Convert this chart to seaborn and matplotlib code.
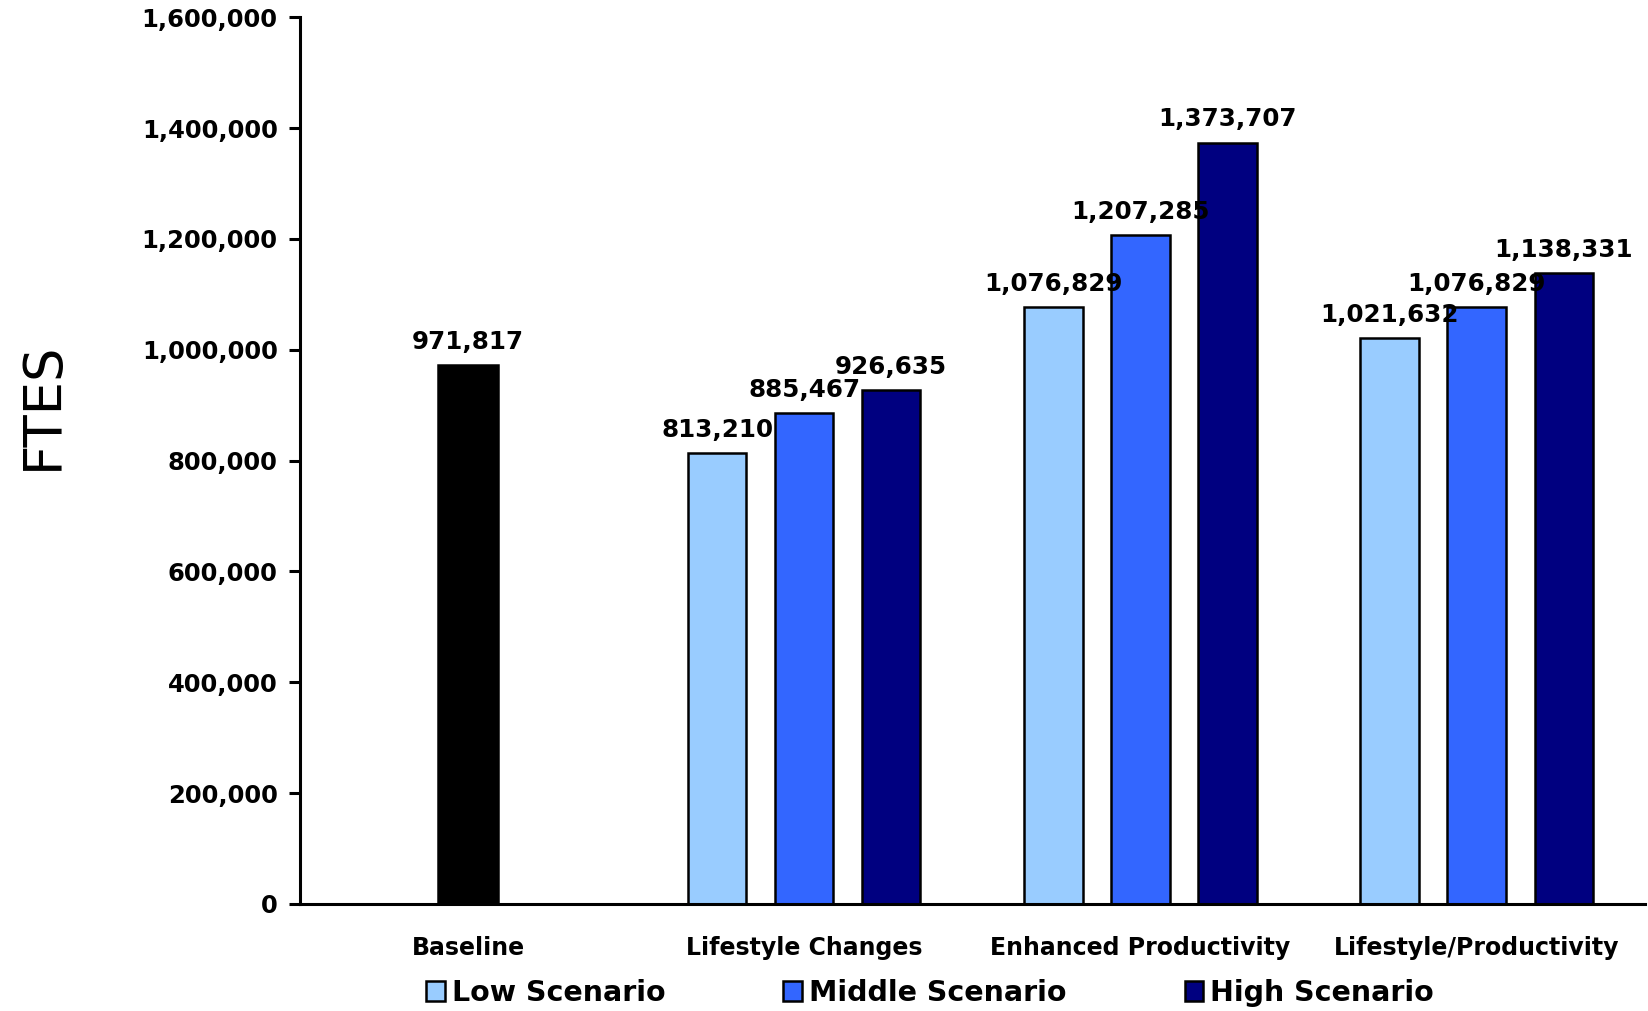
import matplotlib
matplotlib.use("Agg")
import matplotlib.pyplot as plt
import matplotlib.ticker as mticker
from matplotlib.patches import Patch
import pandas as pd
import seaborn as sns

# ---- data -------------------------------------------------------------
categories = ["Baseline", "Lifestyle Changes", "Enhanced Productivity",
              "Lifestyle/Productivity"]
scenarios = ["Low Scenario", "Middle Scenario", "High Scenario"]
baseline_value = 971817
low_values = [813210, 1076829, 1021632]
middle_values = [885467, 1207285, 1076829]
high_values = [926635, 1373707, 1138331]
y_ticks = [0, 200000, 400000, 600000, 800000, 1000000, 1200000, 1400000, 1600000]

scenario_colors = ["#99CCFF", "#3366FF", "#000080"]
baseline_color = "#000000"

# long-form table for the scenario bars
rows = []
for scen, vals in zip(scenarios, [low_values, middle_values, high_values]):
    for cat, v in zip(categories[1:], vals):
        rows.append({"category": cat, "scenario": scen, "FTEs": v})
scen_df = pd.DataFrame(rows)
base_df = pd.DataFrame({"category": [categories[0]], "FTEs": [baseline_value]})

# ---- style ------------------------------------------------------------
sns.set_theme(style="white")
plt.rcParams["font.family"] = ["DejaVu Sans"]
plt.rcParams["text.color"] = "black"

fig, ax = plt.subplots(figsize=(16.48, 10.11), dpi=100)
fig.subplots_adjust(left=0.182, right=0.998, bottom=0.106, top=0.983)

sns.barplot(data=scen_df, x="category", y="FTEs", hue="scenario",
            order=categories, hue_order=scenarios, palette=scenario_colors,
            width=0.777, gap=0.33, saturation=1, errorbar=None,
            edgecolor="black", linewidth=1.8, legend=False, ax=ax)
sns.barplot(data=base_df, x="category", y="FTEs", order=categories,
            color=baseline_color, width=0.178, saturation=1, errorbar=None,
            edgecolor="black", linewidth=1.8, ax=ax)

for container in ax.containers:
    ax.bar_label(container, fmt="{:,.0f}", padding=8,
                 fontsize=17.7, fontweight="bold", color="black")

# ---- axes -------------------------------------------------------------
ax.set_xlim(-0.5, 3.5)
ax.set_ylim(0, 1600000)
ax.set_yticks(y_ticks)
ax.yaxis.set_major_formatter(mticker.FuncFormatter(lambda v, p: f"{v:,.0f}"))

for side in ("top", "right"):
    ax.spines[side].set_visible(False)
for side in ("left", "bottom"):
    ax.spines[side].set_color("black")
    ax.spines[side].set_linewidth(2.2)

ax.tick_params(axis="y", which="major", direction="out", length=8, width=2.2,
               color="black", pad=8, left=True, labelsize=17.5, labelcolor="black")
ax.tick_params(axis="x", length=0, pad=23, labelsize=17, labelcolor="black")
for lbl in ax.get_yticklabels() + ax.get_xticklabels():
    lbl.set_fontweight("bold")

ax.set_xlabel("")
ax.set_ylabel("FTES", fontsize=38, color="black", va="center")
ax.yaxis.set_label_coords(-0.191, 0.562)

# ---- legend -----------------------------------------------------------
handles = [Patch(facecolor=c, edgecolor="black", linewidth=1.8, label=s)
           for c, s in zip(scenario_colors, scenarios)]
fig.legend(handles=handles, loc="center left",
           bbox_to_anchor=(426 / 1648, 1 - 993 / 1011), ncol=3, frameon=False,
           borderpad=0, borderaxespad=0, handlelength=0.65, handleheight=0.65,
           handletextpad=0.25, columnspacing=4.15, labelcolor="black",
           prop={"weight": "bold", "size": 20.5})

fig.savefig("out.png", dpi=100, facecolor="white")
